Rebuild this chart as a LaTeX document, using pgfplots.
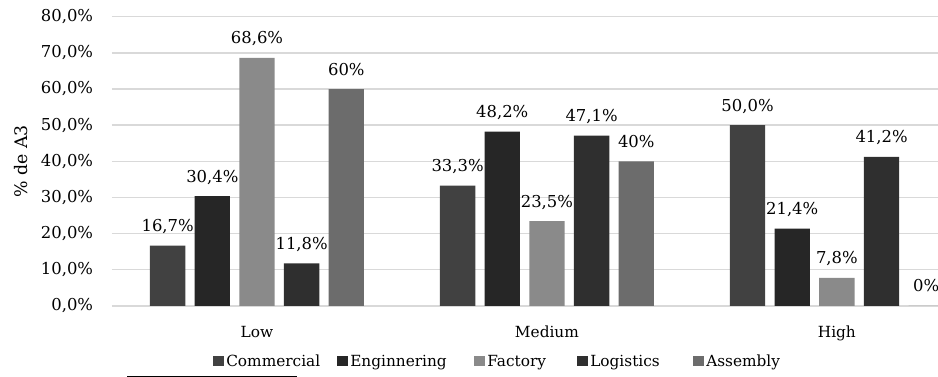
\documentclass[border=0pt]{standalone}
\usepackage{fontspec}
\setmainfont{DejaVu Serif}
\usepackage{pgfplots}
\pgfplotsset{compat=1.18}

\definecolor{cCommercial}{HTML}{414141}
\definecolor{cEngineering}{HTML}{262626}
\definecolor{cFactory}{HTML}{8A8A8A}
\definecolor{cLogistics}{HTML}{2F2F2F}
\definecolor{cAssembly}{HTML}{6C6C6C}
\definecolor{gridgray}{HTML}{D9D9D9}

% share of A3 per department (%), categories Low / Medium / High at x = 0, 1, 2
\pgfplotstableread{
x  val
0  16.7
1  33.3
2  50.0
}\commercial
\pgfplotstableread{
x  val
0  30.4
1  48.2
2  21.4
}\engineering
\pgfplotstableread{
x  val
0  68.6
1  23.5
2  7.8
}\factory
\pgfplotstableread{
x  val
0  11.8
1  47.1
2  41.2
}\logistics
\pgfplotstableread{
x  val
0  60
1  40
2  0
}\assembly

\begin{document}
\begin{tikzpicture}
\begin{axis}[
  scale only axis,
  width=619.4pt, height=217pt,
  xmin=-0.5, xmax=2.3483, ymin=0, ymax=80,
  clip=false,
  ybar=7pt, bar width=26.5pt,
  xtick={0,1,2}, xticklabels={Low,Medium,High},
  ytick={0,10,...,80},
  /pgf/number format/assume math mode=true,
  yticklabel={\pgfmathprintnumber[fixed,fixed zerofill,precision=1,use comma]{\tick}\%},
  yticklabel style={font=\fontsize{12.3}{14}\selectfont, anchor=east, inner sep=0pt, xshift=-14pt},
  xticklabel style={font=\fontsize{11.5}{13}\selectfont, anchor=base, inner sep=0pt, yshift=-24pt},
  ymajorgrids,
  major grid style={draw=gridgray, line width=1pt},
  axis line style={draw=none},
  major tick length=0pt,
  tick style={draw=none},
  ylabel={\% de A3},
  ylabel style={at={([xshift=-68pt]rel axis cs:0,0.5)}, rotate=0, anchor=center, font=\fontsize{13}{15}\selectfont},
  nodes near coords={\pgfmathprintnumber[fixed,fixed zerofill,precision=1,use comma]{\pgfplotspointmeta}\%},
  every node near coord/.append style={font=\fontsize{12.3}{14}\selectfont, anchor=base, inner sep=0pt, yshift=10.5pt, text=black},
  legend columns=5,
  legend style={at={([xshift=75.75pt,yshift=-36.3pt]rel axis cs:0,0)}, anchor=north west,
    draw=none, fill=none, inner sep=0pt, column sep=0pt,
    cells={anchor=base west}, nodes={inner sep=0pt},
    font=\fontsize{11.5}{13}\selectfont},
  legend image code/.code={\fill[#1] (0pt,0pt) rectangle (8.25pt,7.5pt); \path (9.75pt,0pt);},
]
\addplot[fill=cCommercial, draw=none] table[x=x, y=val] {\commercial};
\addlegendentry{\makebox[83.25pt][l]{Commercial}}
\addplot[fill=cEngineering, draw=none] table[x=x, y=val] {\engineering};
\addlegendentry{\makebox[93pt][l]{Enginnering}}
\addplot[fill=cFactory, draw=none] table[x=x, y=val] {\factory};
\addlegendentry{\makebox[67.5pt][l]{Factory}}
\addplot[fill=cLogistics, draw=none] table[x=x, y=val] {\logistics};
\addlegendentry{\makebox[77.25pt][l]{Logistics}}
\addplot[fill=cAssembly, draw=none,
  nodes near coords={\pgfmathprintnumber[fixed,precision=0]{\pgfplotspointmeta}\%}]
  table[x=x, y=val] {\assembly};
\addlegendentry{Assembly}
\end{axis}
% rule at the lower edge of the page
\draw[line width=1.1pt, black] (11.25pt,-52.7pt) -- (138.75pt,-52.7pt);
\pgfresetboundingbox
\path[use as bounding box] (-84pt,-53.25pt) rectangle (619.5pt,229.5pt);
\end{tikzpicture}
\end{document}
